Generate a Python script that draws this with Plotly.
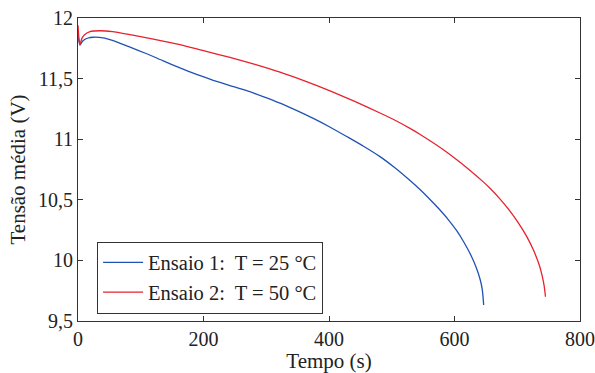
import plotly.graph_objects as go

# Ensaio 1: T = 25 °C  (tempo em s, tensão média em V)
t1 = [0, 1.5, 3.2, 6, 10, 16, 24, 40, 56, 80, 109.5, 135, 162.5, 190, 215.6, 242, 268.8,
      295, 321.9, 348, 375, 402, 428.2, 455, 481.3, 504, 526.4, 545, 561, 574, 590, 603.5,
      615, 625, 634, 641, 644.5, 646.5]
v1 = [11.87, 11.81, 11.777, 11.80, 11.82, 11.835, 11.841, 11.836, 11.813, 11.765, 11.705,
      11.648, 11.588, 11.533, 11.486, 11.443, 11.400, 11.352, 11.298, 11.238, 11.172, 11.099,
      11.022, 10.942, 10.856, 10.768, 10.671, 10.585, 10.503, 10.432, 10.337, 10.245,
      10.150, 10.055, 9.950, 9.840, 9.750, 9.632]

# Ensaio 2: T = 50 °C
t2 = [0, 1.5, 3.2, 6, 10, 19, 35, 55, 83, 120, 162.5, 200, 242.2, 282, 321.9, 362, 401.6,
      441, 481.3, 506, 529.1, 546, 561, 581.7, 600, 622, 645.4, 656.6, 672, 688.4, 702,
      715, 726, 735.7, 740, 743, 745]
v2 = [11.94, 11.83, 11.78, 11.83, 11.86, 11.887, 11.895, 11.887, 11.862, 11.826, 11.780,
      11.730, 11.675, 11.617, 11.553, 11.479, 11.399, 11.312, 11.216, 11.154, 11.089,
      11.037, 10.987, 10.915, 10.845, 10.755, 10.650, 10.595, 10.510, 10.407, 10.308,
      10.198, 10.083, 9.952, 9.866, 9.785, 9.700]

names = ["Ensaio 1:\u00a0 T = 25 °C", "Ensaio 2:\u00a0 T = 50 °C"]
y_ticks = [9.5, 10, 10.5, 11, 11.5, 12]
y_labels = ["9,5", "10", "10,5", "11", "11,5", "12"]
x_ticks = [0, 200, 400, 600, 800]
x_labels = ["0", "200", "400", "600", "800"]

fig = go.Figure()
fig.add_trace(go.Scatter(x=t1, y=v1, mode="lines", name=names[0],
                         line=dict(color="#1f52b4", width=1.3, shape="spline", smoothing=0.5)))
fig.add_trace(go.Scatter(x=t2, y=v2, mode="lines", name=names[1],
                         line=dict(color="#e8222c", width=1.3, shape="spline", smoothing=0.5)))

font = "Liberation Serif, Times New Roman, serif"
axis_common = dict(showgrid=False, zeroline=False, showline=True, linecolor="#333333",
                   linewidth=1, mirror="ticks", ticks="inside", ticklen=5, automargin=False,
                   tickcolor="#333333", tickfont=dict(family=font, size=20, color="#222222"))

fig.update_xaxes(range=[0, 800], tickvals=x_ticks, ticktext=x_labels,
                 title=dict(text="Tempo (s)", font=dict(family=font, size=21, color="#222222"),
                            standoff=2),
                 **axis_common)
fig.update_yaxes(range=[9.5, 12], tickvals=y_ticks, ticktext=y_labels,
                 title=dict(text="Tensão média (V)", font=dict(family=font, size=21, color="#222222"),
                            standoff=6),
                 **axis_common)

fig.update_layout(
    width=595, height=373,
    margin=dict(l=78, r=15, t=18, b=52),
    paper_bgcolor="white", plot_bgcolor="white",
    font=dict(family=font, color="#222222"),
    legend=dict(x=0.038, y=0.262, xanchor="left", yanchor="top",
                bgcolor="white", bordercolor="#333333", borderwidth=1,
                font=dict(family=font, size=20.5, color="#222222"),
                tracegroupgap=0, itemwidth=40),
    showlegend=True,
)

fig.write_html("out.html")
